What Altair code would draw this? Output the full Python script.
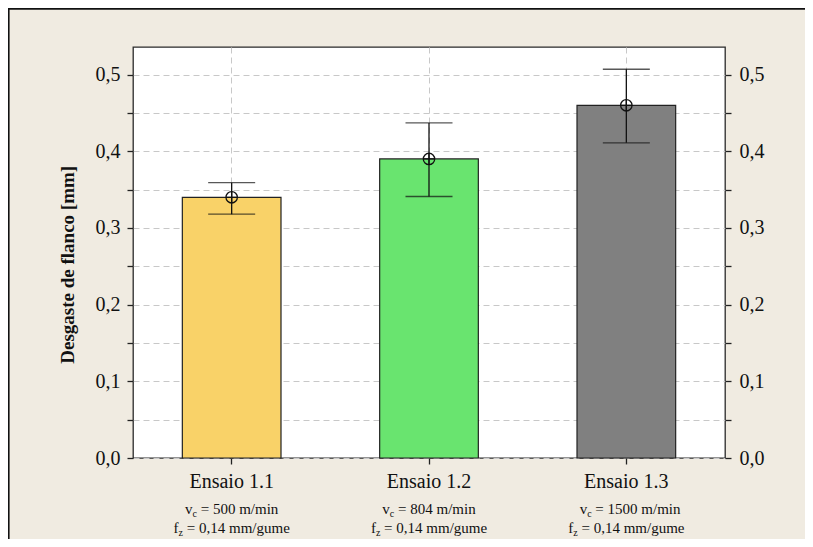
import altair as alt
import pandas as pd

# ---- data ----
categories = ["Ensaio 1.1", "Ensaio 1.2", "Ensaio 1.3"]
means = [0.34, 0.39, 0.46]
err_lo = [0.318, 0.341, 0.411]
err_hi = [0.359, 0.437, 0.507]
vc_values = ["500", "804", "1500"]
fz_values = ["0,14", "0,14", "0,14"]
bar_colors = ["#F9D268", "#69E46F", "#808080"]

df = pd.DataFrame({
    "cat": categories,
    "mean": means,
    "lo": err_lo,
    "hi": err_hi,
    "vc_rest": [f"= {v} m/min" for v in vc_values],
    "fz_rest": [f"= {v} mm/gume" for v in fz_values],
    "v": ["v"] * 3,
    "c": ["c"] * 3,
    "f": ["f"] * 3,
    "z": ["z"] * 3,
})

W, H = 592, 411
PAD_L, PAD_T, PAD_R, PAD_B = 125, 39, 80, 81
FONT = "Liberation Serif"
YMAX = 0.536
tick_vals = [round(i * 0.05, 2) for i in range(11)]
label_expr = "round(datum.value*100) % 10 == 0 ? replace(format(datum.value, '.1f'), '.', ',') : ''"

x_scale = alt.Scale(paddingInner=0.5, paddingOuter=0.25)
x_axis = alt.Axis(title=None, labelFontSize=20, labelAngle=0, tickSize=6, tickWidth=1.3,
                  tickColor="#222", labelColor="#111", labelPadding=23.4,
                  labelBaseline="alphabetic", grid=True, gridDash=[6, 4],
                  gridColor="#c8c8c8", bandPosition=0.5, domain=False, labelFont=FONT)
X = alt.X("cat:N", sort=categories, scale=x_scale, axis=x_axis)

y_scale = alt.Scale(domain=[0, YMAX], nice=False, zero=True)
y_axis = alt.Axis(values=tick_vals, labelExpr=label_expr, title="Desgaste de flanco [mm]",
                  titleFontSize=19, titleFontWeight="bold", titleColor="#111",
                  titleX=-65.3, titleY=217.3, titleAngle=270, titleBaseline="middle",
                  titleAlign="center", grid=True, gridDash=[6, 4], gridColor="#c8c8c8",
                  domain=False, tickSize=6, tickWidth=1.3, tickColor="#222",
                  labelPadding=7, labelFontSize=20, labelColor="#111", labelFont=FONT,
                  titleFont=FONT)

base = alt.Chart(df)

bars = base.mark_bar(stroke="#222", strokeWidth=1.2).encode(
    x=X,
    y=alt.Y("mean:Q", scale=y_scale, axis=y_axis),
    color=alt.Color("cat:N", scale=alt.Scale(domain=categories, range=bar_colors), legend=None),
)
err = base.mark_rule(color="#111", strokeWidth=1.3).encode(
    x=X, y=alt.Y("lo:Q", scale=y_scale, axis=y_axis), y2="hi:Q")
cap_lo = base.mark_tick(color="#111", size=47, thickness=1.3).encode(
    x=X, y=alt.Y("lo:Q", scale=y_scale, axis=y_axis))
cap_hi = base.mark_tick(color="#111", size=47, thickness=1.3).encode(
    x=X, y=alt.Y("hi:Q", scale=y_scale, axis=y_axis))
circ = base.mark_point(shape="circle", size=130, filled=False, color="#111", strokeWidth=1.3,
                       opacity=1).encode(x=X, y=alt.Y("mean:Q", scale=y_scale, axis=y_axis))
cross = base.mark_point(shape="M-1,0L1,0M0,-1L0,1", size=130, filled=False, color="#111",
                        strokeWidth=1.3, opacity=1).encode(
    x=X, y=alt.Y("mean:Q", scale=y_scale, axis=y_axis))

def txt(field, dx, y, size):
    return base.mark_text(font=FONT, fontSize=size, align="left", baseline="alphabetic",
                          dx=dx, color="#111").encode(
        x=X, y=alt.value(y), text=f"{field}:N")

VC_Y = H + 56.3
FZ_Y = H + 75
texts = [
    txt("v", -46.7, VC_Y, 15), txt("c", -39.2, VC_Y + 3, 10), txt("vc_rest", -31.0, VC_Y, 15),
    txt("f", -58.1, FZ_Y, 15), txt("z", -53.1, FZ_Y + 3, 10), txt("fz_rest", -44.9, FZ_Y, 15),
]

frame_df = pd.DataFrame({"a": [0]})
border_left = alt.Chart(frame_df).mark_rule(color="#111", strokeWidth=1.6).encode(
    x=alt.value(-PAD_L + 0.8), y=alt.value(-PAD_T), y2=alt.value(H + PAD_B))
border_top = alt.Chart(frame_df).mark_rule(color="#111", strokeWidth=1.8).encode(
    x=alt.value(-PAD_L), x2=alt.value(W + PAD_R), y=alt.value(-PAD_T + 0.9))

main = alt.layer(bars, err, cap_lo, cap_hi, circ, cross, *texts, border_left, border_top)

right = base.mark_bar(opacity=0).encode(
    x=X,
    y=alt.Y("mean:Q", scale=y_scale,
            axis=alt.Axis(orient="right", values=tick_vals, labelExpr=label_expr, title=None,
                          grid=False, domain=False, tickSize=6, tickWidth=1.3, tickColor="#222",
                          labelPadding=8, labelFontSize=20, labelColor="#111", labelFont=FONT)),
)

chart = alt.layer(main, right).resolve_scale(y="independent").properties(
    width=W, height=H,
    autosize=alt.AutoSizeParams(type="none"),
    padding={"left": PAD_L, "top": PAD_T, "right": PAD_R, "bottom": PAD_B},
).configure(
    font=FONT, background="#F0EBE1"
).configure_view(
    stroke="#2a2a2a", strokeWidth=1.3, fill="white"
)

chart.save("out.html", embed_options={"renderer": "svg", "actions": False})
